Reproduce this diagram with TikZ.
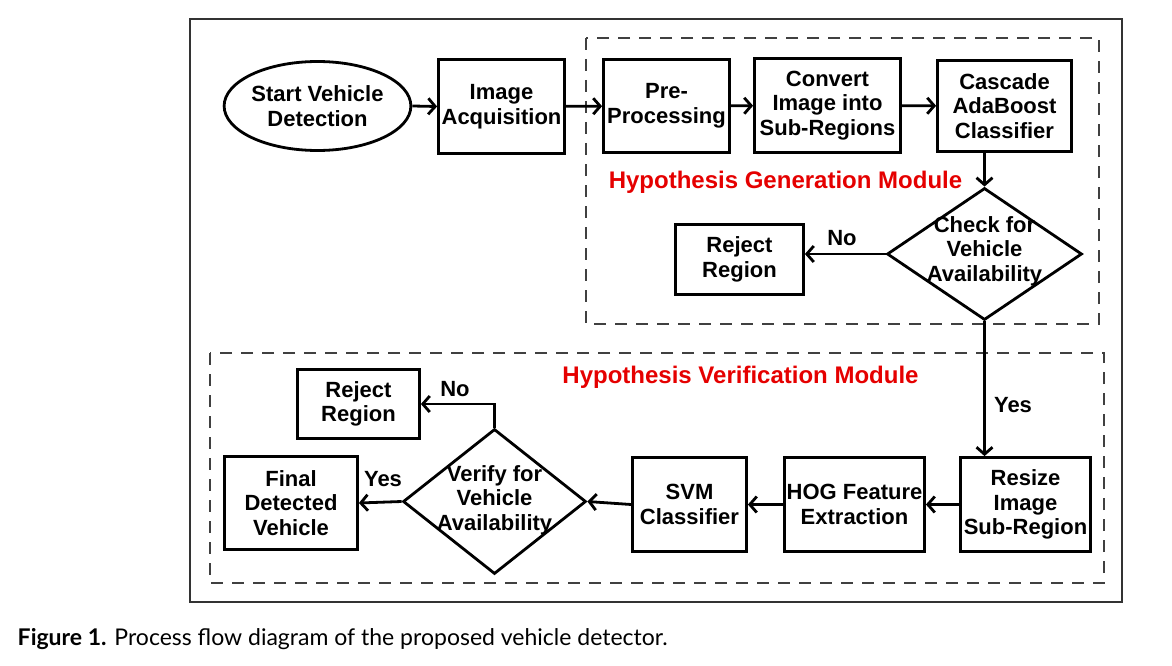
\documentclass[tikz,border=0pt]{standalone}
\usepackage{fontspec}
\setmainfont{Liberation Sans}
\newfontfamily\capfont{Lato}
\usetikzlibrary{arrows.meta,shapes.geometric}

\begin{document}
\begin{tikzpicture}[
       x=1pt, y=-1pt,
       line width=2.8pt,
       >={Straight Barb[length=7pt,width=16pt]},
       stage/.style={
         draw,
         rectangle,
         align=center,
         inner sep=0pt,
         font=\fontsize{22}{24.5}\selectfont\bfseries
       },
       oval/.style={stage, ellipse},
       decision/.style={draw, diamond, inner sep=0pt},
       dtext/.style={align=center, font=\fontsize{22}{24.5}\selectfont\bfseries},
       module/.style={draw=black!75, line width=2pt, dash pattern=on 12pt off 9pt},
       modtitle/.style={text=red!90!black, font=\fontsize{24}{28}\selectfont\bfseries},
       answer/.style={font=\fontsize{22}{24}\selectfont\bfseries}
     ]

       \useasboundingbox (0,0) rectangle (1172,666);

       % frame and the two modules
       \draw[black!80, line width=1.3pt] (190,19) rectangle (1122,602);
       \draw[module] (586,38) rectangle (1099,324);
       \draw[module] (210,353) rectangle (1104,583);

       \node (hgm) at (785.5,182) [modtitle]{Hypothesis Generation Module};
       \node (hvm) at (740.5,377) [modtitle]{Hypothesis Verification Module};

       % top row
       \node (start) at (317.5,106) [oval,minimum width=186pt,minimum height=89pt]{Start Vehicle\\Detection};
       \node (acq) at (501.5,106.5) [stage,minimum width=126pt,minimum height=94pt]{Image\\Acquisition};
       \node (pre) at (666.5,106) [stage,minimum width=126pt,minimum height=93pt]{Pre-\\Processing};
       \node (conv) at (827.5,105.5) [stage,minimum width=146pt,minimum height=94pt]{Convert\\Image into\\Sub-Regions};
       \node (casc) at (1004.5,106) [stage,minimum width=134pt,minimum height=91pt]{Cascade\\AdaBoost\\Classifier};

       \node (check) at (984.5,254) [decision,minimum width=195pt,minimum height=132pt]{};
       \node (checktxt) at (984.5,251) [dtext]{Check for\\Vehicle\\Availability};
       \node (rej1) at (739.5,259.5) [stage,minimum width=128pt,minimum height=70pt]{Reject\\Region};

       % bottom row
       \node (resize) at (1025.5,504.5) [stage,minimum width=130pt,minimum height=94pt]{Resize\\Image\\Sub-Region};
       \node (hog) at (854.5,504.5) [stage,minimum width=140pt,minimum height=94pt]{HOG Feature\\Extraction};
       \node (svm) at (689.5,504.5) [stage,minimum width=114pt,minimum height=94pt]{SVM\\Classifier};
       \node (verify) at (494.5,501.5) [decision,minimum width=183pt,minimum height=145pt]{};
       \node (verifytxt) at (494.5,500) [dtext]{Verify for\\Vehicle\\Availability};
       \node (final) at (291,503) [stage,minimum width=133pt,minimum height=93pt]{Final\\Detected\\Vehicle};
       \node (rej2) at (358.5,404) [stage,minimum width=122pt,minimum height=69pt]{Reject\\Region};

       \node (no1) at (842,238) [answer]{No};
       \node (yes1) at (1013,405) [answer]{Yes};
       \node (no2) at (455,389) [answer]{No};
       \node (yes2) at (383,479) [answer]{Yes};

       \draw[->] (start.east) -- (acq.west);
       \draw[->] (acq) -- (pre);
       \draw[->] (pre) -- (conv);
       \draw[->] (conv) -- (casc);
       \draw[->] (casc.south -| check.north) -- (check.north);
       \draw[->] (check.west) -- (check.west -| rej1.east);
       \draw[->] (check.south) -- (check.south |- resize.north);

       \draw[->] (resize) -- (hog);
       \draw[->] (hog) -- (svm);
       \draw[->] (svm.west) -- (verify.east);
       \draw[->] (verify.west) -- (final.east);
       \draw[->] (verify.north) |- (rej2.east);

       \node (caption) at (13,645) [anchor=base west,font=\capfont\fontsize{23}{27}\selectfont]{\textbf{Figure 1.} Process flow diagram of the proposed vehicle detector.};

\end{tikzpicture}
\end{document}
